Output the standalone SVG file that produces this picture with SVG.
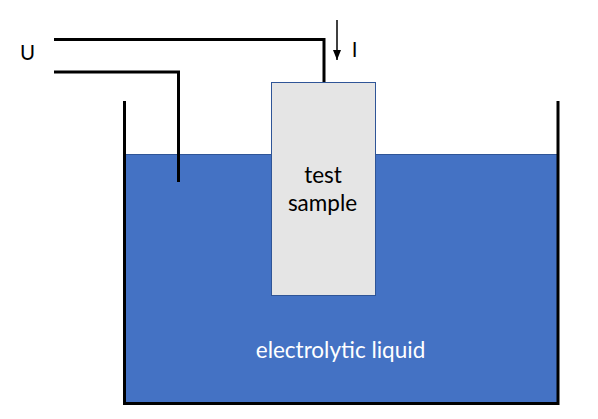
<svg xmlns="http://www.w3.org/2000/svg" width="598" height="419" viewBox="0 0 598 419">
<style>
.wire{fill:none;stroke:#000;stroke-width:3}
.t{font-family:"Lato","Carlito","Liberation Sans",sans-serif;font-size:22.500px;fill:#000}
.s{font-size:20.500px}
</style>
<defs>
<marker id="ah" markerUnits="userSpaceOnUse" markerWidth="10" markerHeight="8" refX="10" refY="4" orient="auto"><path d="M0 0L10 4L0 8Z" fill="#000"/></marker>
</defs>
<rect width="598" height="419" fill="#fff"/>
<g id="liquid">
<rect x="125" y="154.500" width="432.500" height="249" fill="#4472c4" stroke="#2f5597" stroke-width="1"/>
<text x="340.500" y="358" text-anchor="middle" class="t" style="fill:#fff">electrolytic liquid</text>
</g>
<g id="tank"><path class="wire" d="M124.500 101V403.500H558V101"/></g>
<g id="sample">
<rect x="271.500" y="82.500" width="104" height="213" fill="#e5e5e5" stroke="#2f5597" stroke-width="1"/>
<text x="323" y="183" text-anchor="middle" class="t">test</text>
<text x="322.500" y="211" text-anchor="middle" class="t">sample</text>
</g>
<g id="connectors">
<path class="wire" d="M54 39.500H324V82"/>
<path class="wire" d="M54 72H178.500V182"/>
<path d="M337 20V60" fill="none" stroke="#000" stroke-width="1.500" marker-end="url(#ah)"/>
</g>
<g id="labels">
<text x="27.500" y="60" text-anchor="middle" class="t s">U</text>
<text x="354.500" y="57" text-anchor="middle" class="t s">I</text>
</g>
</svg>
